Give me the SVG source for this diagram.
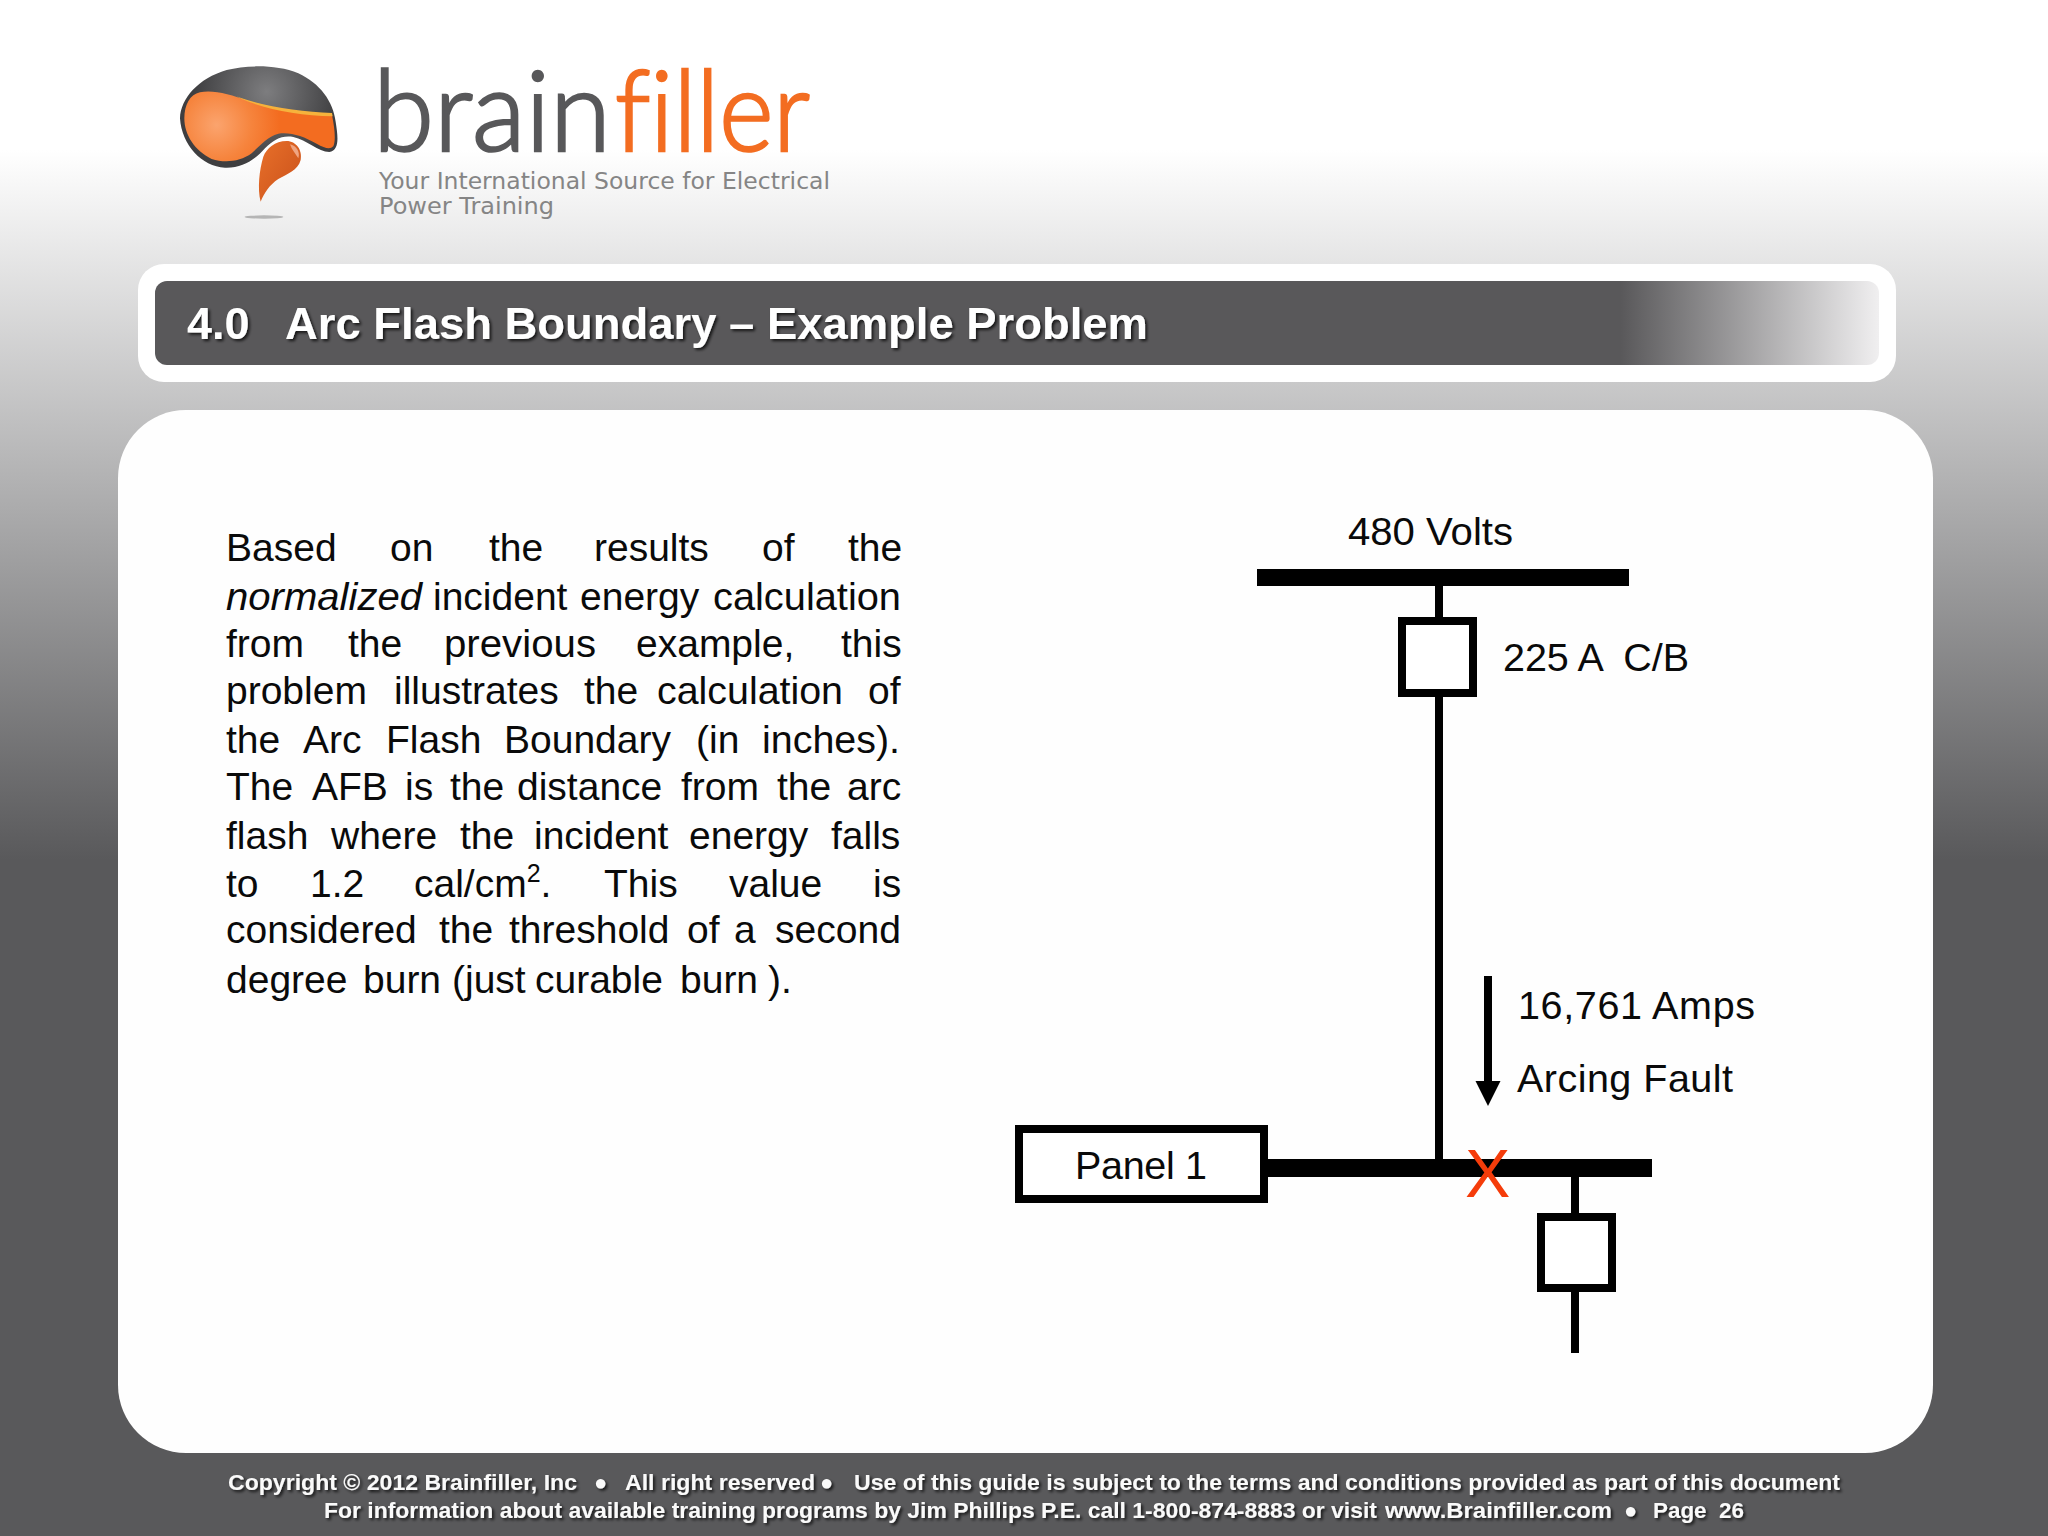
<svg xmlns="http://www.w3.org/2000/svg" width="2048" height="1536" viewBox="0 0 2048 1536">
<style>
text{font-family:"Liberation Sans",Arial,sans-serif}
.body{font-size:39px;fill:#0a0a0a}
.lab{font-size:39.5px;fill:#0a0a0a}
.foot{font-size:22px;font-weight:bold;fill:#fafafa}
.tag{font-family:"DejaVu Sans",Verdana,sans-serif;font-size:23px;fill:#858585}
.wire{fill:none;stroke:#000;stroke-width:8}
.box{fill:#fff;stroke:#000;stroke-width:8}
.bar{fill:#000}
.logo{font-family:Lato,"Liberation Sans",sans-serif;font-weight:300;font-size:113px;font-variant-ligatures:none;stroke-width:2.6}
</style>
<defs>
<linearGradient id="bg" gradientUnits="userSpaceOnUse" x1="0" y1="150" x2="0" y2="860"><stop offset="0" stop-color="#fff"/><stop offset="1" stop-color="#59595b"/></linearGradient>
<linearGradient id="title" gradientUnits="userSpaceOnUse" x1="155" y1="0" x2="1879" y2="0"><stop offset="0.85" stop-color="#59585a"/><stop offset="1" stop-color="#f0eff0"/></linearGradient>
<radialGradient id="org" gradientUnits="userSpaceOnUse" cx="140" cy="210" r="190"><stop offset="0" stop-color="#fba46e"/><stop offset="0.55" stop-color="#f6843d"/><stop offset="1" stop-color="#f36c20"/></radialGradient>
<radialGradient id="gry" gradientUnits="userSpaceOnUse" cx="290" cy="110" r="220"><stop offset="0" stop-color="#7d7d7f"/><stop offset="1" stop-color="#3e3e40"/></radialGradient>
<linearGradient id="drop" x1="0" y1="0" x2="1" y2="1"><stop offset="0" stop-color="#e8702a"/><stop offset="1" stop-color="#c9501a"/></linearGradient>
<filter id="sh" x="-5%" y="-30%" width="110%" height="170%"><feDropShadow dx="2" dy="2" stdDeviation="1.6" flood-color="#000" flood-opacity=".75"/></filter>
<filter id="bl" x="-20%" y="-200%" width="140%" height="500%"><feGaussianBlur stdDeviation="1.5"/></filter>
<marker id="head" markerUnits="userSpaceOnUse" markerWidth="26" markerHeight="26" refX="0" refY="12.5" orient="auto"><path d="M0 0L25 12.5L0 25Z" fill="#000"/></marker>
</defs>
<rect id="background" width="2048" height="1536" fill="url(#bg)"/>
<g id="logo">
<g transform="translate(170 55) scale(.3333)">
<path d="M30 190C32 130 85 70 170 45C230 30 320 28 385 55C450 85 490 140 497 200C505 250 508 285 478 291C445 290 410 255 370 246C335 240 310 255 285 280C255 315 215 340 165 338C95 335 35 270 30 190Z" fill="url(#gry)"/>
<path d="M43 190C43 150 60 118 90 112C130 104 180 118 235 138C310 160 400 174 486 180C494 220 498 255 490 274C480 284 465 280 440 266C400 243 360 230 325 236C290 246 270 272 245 295C210 320 165 325 125 312C75 288 43 240 43 190Z" fill="url(#org)"/>
<path d="M200 124C270 152 390 170 486 174L488 184C390 182 290 164 215 132Z" fill="#f6b23c"/>
<path d="M350 258C378 258 398 285 392 315C385 345 350 358 325 372C298 390 282 415 272 440C262 400 268 345 280 305C290 280 315 258 350 258Z" fill="url(#drop)"/>
<path d="M360 268C378 272 392 290 385 310C378 298 365 285 360 268Z" fill="#efa582"/>
<ellipse cx="282" cy="486" rx="58" ry="5" fill="#b5b5b5" filter="url(#bl)"/>
</g>
<text class="logo" x="373" y="151" fill="#58585a" stroke="#58585a" textLength="238" lengthAdjust="spacingAndGlyphs">brain</text>
<text class="logo" x="615" y="151" fill="#f36d21" stroke="#f36d21" textLength="195" lengthAdjust="spacingAndGlyphs">filler</text>
<text class="tag" x="379" y="189" textLength="451" lengthAdjust="spacingAndGlyphs">Your International Source for Electrical</text>
<text class="tag" x="379" y="214" textLength="175" lengthAdjust="spacingAndGlyphs">Power Training</text>
</g>
<g id="title-bar">
<rect x="138" y="264" width="1758" height="118" rx="26" fill="#fff"/>
<rect x="155" y="281" width="1724" height="84" rx="12" fill="url(#title)"/>
<text x="187" y="339" font-size="45" font-weight="bold" fill="#fff" filter="url(#sh)">4.0</text>
<text x="285" y="339" font-size="45" font-weight="bold" fill="#fff" filter="url(#sh)" textLength="863" lengthAdjust="spacingAndGlyphs">Arc Flash Boundary – Example Problem</text>
</g>
<rect id="panel" x="118" y="410" width="1815" height="1043" rx="68" fill="#fefefe"/>
<g id="body-text" class="body">
<text y="561"><tspan x="226">Based</tspan><tspan x="390">on</tspan><tspan x="489">the</tspan><tspan x="594">results</tspan><tspan x="762">of</tspan><tspan x="848">the</tspan></text>
<text y="610"><tspan x="226" font-style="italic" textLength="196" lengthAdjust="spacingAndGlyphs">normalized</tspan><tspan x="433">incident</tspan><tspan x="580">energy</tspan><tspan x="713" textLength="188" lengthAdjust="spacingAndGlyphs">calculation</tspan></text>
<text y="657"><tspan x="226">from</tspan><tspan x="348">the</tspan><tspan x="444" textLength="152" lengthAdjust="spacingAndGlyphs">previous</tspan><tspan x="636">example,</tspan><tspan x="841">this</tspan></text>
<text y="704"><tspan x="226">problem</tspan><tspan x="394">illustrates</tspan><tspan x="584">the</tspan><tspan x="657" textLength="186" lengthAdjust="spacingAndGlyphs">calculation</tspan><tspan x="868">of</tspan></text>
<text y="753"><tspan x="226">the</tspan><tspan x="303">Arc</tspan><tspan x="386">Flash</tspan><tspan x="504">Boundary</tspan><tspan x="696">(in</tspan><tspan x="762" textLength="138" lengthAdjust="spacingAndGlyphs">inches).</tspan></text>
<text y="800"><tspan x="226">The</tspan><tspan x="312">AFB</tspan><tspan x="405">is</tspan><tspan x="450">the</tspan><tspan x="517">distance</tspan><tspan x="681">from</tspan><tspan x="777">the</tspan><tspan x="847">arc</tspan></text>
<text y="849"><tspan x="226">flash</tspan><tspan x="331">where</tspan><tspan x="460">the</tspan><tspan x="534">incident</tspan><tspan x="689">energy</tspan><tspan x="831">falls</tspan></text>
<text y="897"><tspan x="226">to</tspan><tspan x="310">1.2</tspan><tspan x="414">cal/cm</tspan><tspan font-size="25" dy="-15">2</tspan><tspan dy="15">.</tspan><tspan x="604">This</tspan><tspan x="729">value</tspan><tspan x="873">is</tspan></text>
<text y="943"><tspan x="226">considered</tspan><tspan x="439">the</tspan><tspan x="509">threshold</tspan><tspan x="687">of</tspan><tspan x="734">a</tspan><tspan x="775" textLength="126" lengthAdjust="spacingAndGlyphs">second</tspan></text>
<text y="993"><tspan x="226">degree</tspan><tspan x="363">burn</tspan><tspan x="452">(just</tspan><tspan x="535">curable</tspan><tspan x="680">burn</tspan><tspan x="768">).</tspan></text>
</g>
<g id="connectors">
<line class="wire" x1="1439" y1="586" x2="1439" y2="1160"/>
<line class="wire" x1="1575" y1="1177" x2="1575" y2="1353"/>
<line class="wire" x1="1488" y1="976" x2="1488" y2="1081" marker-end="url(#head)"/>
</g>
<g id="bus-480"><rect class="bar" x="1257" y="569" width="372" height="17"/><text class="lab" x="1348" y="545" textLength="165" lengthAdjust="spacingAndGlyphs">480 Volts</text></g>
<g id="breaker-225"><rect class="box" x="1402" y="621" width="71" height="72"/><text class="lab" x="1503" y="671" textLength="186" xml:space="preserve">225 A  C/B</text></g>
<g id="arcing-label"><text class="lab" x="1518" y="1019" textLength="237">16,761 Amps</text><text class="lab" x="1517" y="1092" textLength="216">Arcing Fault</text></g>
<g id="panel-1"><rect class="bar" x="1268" y="1159" width="384" height="18"/><rect class="box" x="1019" y="1129" width="245" height="70"/><text class="lab" x="1075" y="1179" textLength="132">Panel 1</text></g>
<g id="fault-x"><text x="1465" y="1197" font-size="68" fill="#f53c0a">X</text></g>
<g id="breaker-lower"><rect class="box" x="1541" y="1217" width="71" height="71"/></g>
<g id="footer" class="foot" filter="url(#sh)">
<text x="228" y="1490" textLength="349" lengthAdjust="spacingAndGlyphs">Copyright © 2012 Brainfiller, Inc</text>
<text x="594" y="1490">●</text>
<text x="625" y="1490" textLength="190" lengthAdjust="spacingAndGlyphs">All right reserved</text>
<text x="820" y="1490">●</text>
<text x="854" y="1490" textLength="986" lengthAdjust="spacingAndGlyphs">Use of this guide is subject to the terms and conditions provided as part of this document</text>
<text x="324" y="1518" textLength="1053" lengthAdjust="spacingAndGlyphs">For information about available training programs by Jim Phillips P.E. call 1-800-874-8883 or visit</text>
<text x="1385" y="1518" textLength="227" lengthAdjust="spacingAndGlyphs">www.Brainfiller.com</text>
<text x="1624" y="1518">●</text>
<text x="1653" y="1518" textLength="91" lengthAdjust="spacingAndGlyphs" xml:space="preserve">Page  26</text>
</g>
</svg>
